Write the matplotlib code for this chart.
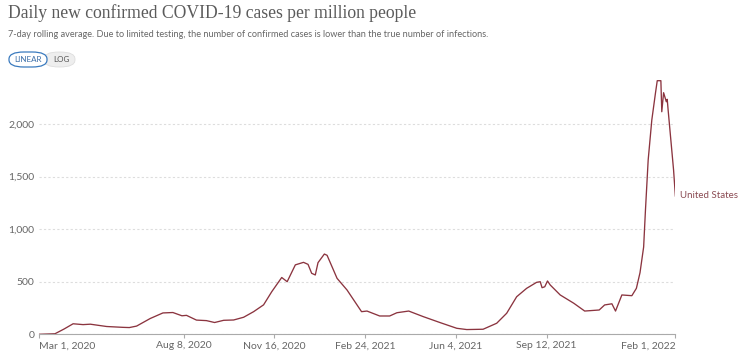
import pandas as pd
import matplotlib.pyplot as plt
from matplotlib.patches import FancyBboxPatch
from matplotlib.ticker import FuncFormatter

# =========================
# DADOS
# =========================
datas = [
    "2020-03-01", "2020-03-19", "2020-03-29", "2020-04-08", "2020-04-19", "2020-04-27",
    "2020-05-15", "2020-06-02", "2020-06-09", "2020-06-17", "2020-07-02", "2020-07-16",
    "2020-07-27", "2020-08-06", "2020-08-11", "2020-08-22", "2020-09-02", "2020-09-11",
    "2020-09-21", "2020-10-02", "2020-10-13", "2020-10-24", "2020-11-04", "2020-11-13",
    "2020-11-24", "2020-11-30", "2020-12-09", "2020-12-18", "2020-12-23", "2020-12-27",
    "2020-12-31", "2021-01-03", "2021-01-10", "2021-01-13", "2021-01-24", "2021-02-04",
    "2021-02-20", "2021-02-26", "2021-03-12", "2021-03-23", "2021-03-31", "2021-04-13",
    "2021-04-29", "2021-05-18", "2021-06-05", "2021-06-16", "2021-07-04", "2021-07-19",
    "2021-07-30", "2021-08-10", "2021-08-21", "2021-09-01", "2021-09-05", "2021-09-07",
    "2021-09-10", "2021-09-13", "2021-09-16", "2021-09-27", "2021-10-12", "2021-10-24",
    "2021-11-09", "2021-11-15", "2021-11-23", "2021-11-27", "2021-12-04", "2021-12-15",
    "2021-12-20", "2021-12-24", "2021-12-28", "2021-12-30", "2022-01-02", "2022-01-06",
    "2022-01-10", "2022-01-12", "2022-01-16", "2022-01-17", "2022-01-19", "2022-01-22",
    "2022-01-23", "2022-01-24", "2022-01-28", "2022-01-30", "2022-02-01",
]
casos = [
    0, 5, 50, 100, 92, 96,
    74, 66, 64, 78, 150, 203,
    207, 176, 180, 135, 130, 112,
    133, 136, 162, 215, 280, 405,
    540, 500, 660, 684, 665, 580,
    564, 681, 763, 751, 532, 421,
    215, 221, 174, 174, 205, 221,
    168, 110, 57, 45, 48, 105,
    200, 357, 437, 494, 500, 443,
    452, 507, 469, 374, 295, 221,
    231, 279, 290, 221, 374, 367,
    437, 586, 830, 1180, 1657, 2037,
    2291, 2411, 2411, 2116, 2297, 2211,
    2234, 2132, 1752, 1562, 1315,
]
pais = "United States"

ticks_x = ["2020-03-01", "2020-08-08", "2020-11-16", "2021-02-24",
           "2021-06-04", "2021-09-12", "2022-02-01"]
labels_x = ["Mar 1, 2020", "Aug 8, 2020", "Nov 16, 2020", "Feb 24, 2021",
            "Jun 4, 2021", "Sep 12, 2021", "Feb 1, 2022"]
ticks_y = [0, 500, 1000, 1500, 2000]

df = pd.DataFrame({"data": pd.to_datetime(datas), "casos": casos})

# =========================
# GRAFICO
# =========================
plt.rcParams["font.family"] = ["Lato", "DejaVu Sans"]
cinza = "#666666"
cor_linha = "#8B343F"

fig = plt.figure(figsize=(7.43, 3.53), dpi=100)
ax = fig.add_axes([0.052, 0.053, 0.857, 0.730])

ax.plot(df["data"], df["casos"], color=cor_linha, linewidth=0.95)

ax.set_xlim(pd.Timestamp(ticks_x[0]), pd.Timestamp(ticks_x[-1]))
ax.set_ylim(0, 2450)

ax.set_xticks(pd.to_datetime(ticks_x))
ax.set_xticklabels(labels_x)
tl = ax.get_xticklabels()
tl[0].set_ha("left")
tl[-1].set_ha("right")
ax.set_yticks(ticks_y)
ax.yaxis.set_major_formatter(FuncFormatter(lambda v, p: f"{int(v):,}"))

ax.tick_params(axis="x", colors="#aaaaaa", labelcolor=cinza, labelsize=7.5,
               length=3, width=0.8, pad=2)
ax.tick_params(axis="y", length=0, labelcolor=cinza, labelsize=7.5, pad=3)

for lado in ["top", "right", "left"]:
    ax.spines[lado].set_visible(False)
ax.spines["bottom"].set_color("#aaaaaa")
ax.spines["bottom"].set_linewidth(0.8)

ax.grid(axis="y", linestyle=(0, (2, 2)), color="#dddddd", linewidth=0.8)
ax.set_axisbelow(True)

# rotulo do pais no fim da linha
ax.annotate(pais, (df["data"].iloc[-1], df["casos"].iloc[-1]),
            xytext=(3, 0), textcoords="offset points", va="center", ha="left",
            fontsize=7, color="#8a4a52", annotation_clip=False)

# titulo e subtitulo
fig.text(0.011, 0.962, "Daily new confirmed COVID-19 cases per million people",
         fontsize=12.7, family=["Liberation Serif", "DejaVu Serif"],
         color="#5b5b5b", va="center", ha="left")
fig.text(0.011, 0.903,
         "7-day rolling average. Due to limited testing, the number of confirmed "
         "cases is lower than the true number of infections.",
         fontsize=6.6, color=cinza, va="center", ha="left")

# botoes LINEAR / LOG
W, H = 743, 353
log_box = FancyBboxPatch((44 / W, 1 - 67 / H), 31 / W, 15 / H,
                         boxstyle="round,pad=0,rounding_size=0.02",
                         transform=fig.transFigure, facecolor="#eeeeee",
                         edgecolor="#dddddd", linewidth=0.6)
lin_box = FancyBboxPatch((9 / W, 1 - 67 / H), 38 / W, 15 / H,
                         boxstyle="round,pad=0,rounding_size=0.02",
                         transform=fig.transFigure, facecolor="white",
                         edgecolor="#3b7bbf", linewidth=0.9)
fig.patches.extend([log_box, lin_box])
fig.text(28 / W, 1 - 59.5 / H, "LINEAR", fontsize=5.8, color="#3b6ea8",
         ha="center", va="center")
fig.text(61 / W, 1 - 59.5 / H, "LOG", fontsize=5.8, color="#555555",
         ha="center", va="center")

fig.savefig("out.png", dpi=100)
